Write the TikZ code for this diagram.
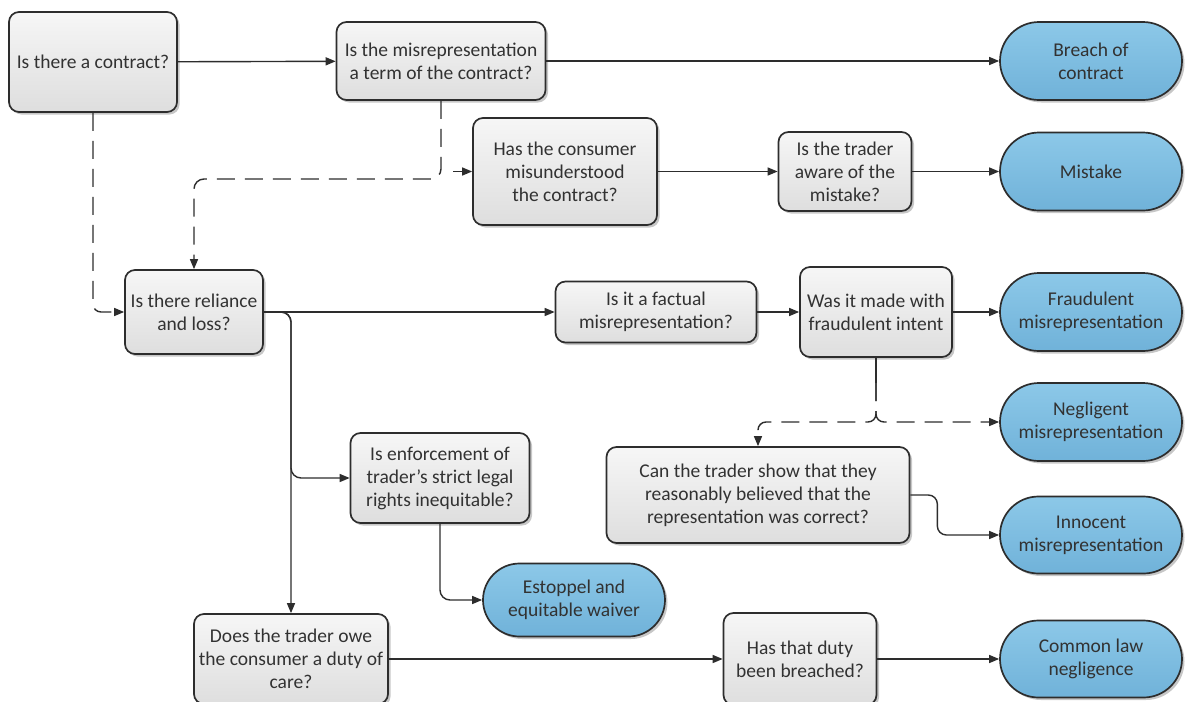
\documentclass[tikz,border=0pt]{standalone}
\usepackage{fontspec}
\setmainfont{Carlito}
\usetikzlibrary{arrows.meta,shapes.misc,shadows}
\definecolor{linec}{RGB}{45,45,45}
\definecolor{txtc}{RGB}{50,50,50}
\definecolor{gA}{RGB}{246,246,246}
\definecolor{gB}{RGB}{222,222,222}
\definecolor{bA}{RGB}{140,200,232}
\definecolor{bB}{RGB}{112,178,217}
\tikzset{
  boxbase/.style={draw=linec, line width=1.7pt, align=center, inner sep=0pt,
    text=txtc, font=\fontsize{19.5}{23}\selectfont,
    drop shadow={shadow xshift=2.5pt, shadow yshift=-2.5pt, fill=black, opacity=0.22}},
  qbox/.style={boxbase, rounded corners=10pt, top color=gA, bottom color=gB},
  tbox/.style={boxbase, rounded rectangle, top color=bA, bottom color=bB,
    minimum width=182pt, minimum height=78pt},
  conn/.style={draw=linec, line width=1.4pt, -{Triangle[length=10pt,width=8pt]}},
  plain/.style={draw=linec, line width=1.4pt},
  dconn/.style={conn, dash pattern=on 18pt off 10pt},
}
\begin{document}
\begin{tikzpicture}[x=1pt,y=-1pt]
\useasboundingbox (0,0) rectangle (1187,702);
\clip (0,0) rectangle (1187,702);
\fill[white] (0,0) rectangle (1187,702);

% question boxes
\node[qbox, minimum width=168pt, minimum height=100pt] (contract) at (93,62) {Is there a contract?};
\node[qbox, minimum width=209pt, minimum height=78pt] (term) at (441,61) {Is the misrepresentation\\a term of the contract?};
\node[qbox, minimum width=184pt, minimum height=107pt] (misund) at (565,171.5) {Has the consumer\\misunderstood\\the contract?};
\node[qbox, minimum width=133pt, minimum height=79pt] (aware) at (845,171.5) {Is the trader\\aware of the\\mistake?};
\node[qbox, minimum width=138pt, minimum height=84pt] (reliance) at (194,312) {Is there reliance\\and loss?};
\node[qbox, minimum width=201pt, minimum height=61pt] (factual) at (656,312) {Is it a factual\\misrepresentation?};
\node[qbox, minimum width=152pt, minimum height=90pt] (fraud) at (876,312) {Was it made with\\fraudulent intent};
\node[qbox, minimum width=303pt, minimum height=96pt] (can) at (758,495) {Can the trader show that they\\reasonably believed that the\\representation was correct?};
\node[qbox, minimum width=179pt, minimum height=90pt] (enforce) at (440,478) {Is enforcement of\\trader’s strict legal\\rights inequitable?};
\node[qbox, minimum width=194pt, minimum height=90pt] (duty) at (291,659) {Does the trader owe\\the consumer a duty of\\care?};
\node[qbox, minimum width=153pt, minimum height=92pt] (breached) at (800,659) {Has that duty\\been breached?};

% outcome boxes
\node[tbox] (breach) at (1091,61) {Breach of\\contract};
\node[tbox] (mistake) at (1091,171.5) {Mistake};
\node[tbox] (fraudulent) at (1091,312) {Fraudulent\\misrepresentation};
\node[tbox] (negl) at (1091,422) {Negligent\\misrepresentation};
\node[tbox, minimum height=77pt] (innocent) at (1091,535) {Innocent\\misrepresentation};
\node[tbox, minimum height=73pt] (estoppel) at (574,600) {Estoppel and\\equitable waiver};
\node[tbox, minimum height=77pt] (common) at (1091,659) {Common law\\negligence};

% straight connectors
\draw[conn] (contract) -- (term);
\draw[conn] (term) -- (breach);
\draw[conn] (misund) -- (aware);
\draw[conn] (aware) -- (mistake);
\draw[conn] (reliance) -- (factual);
\draw[conn] (factual) -- (fraud);
\draw[conn] (fraud) -- (fraudulent);
\draw[conn] (duty) -- (breached);
\draw[conn] (breached) -- (common);

% dashed from contract to reliance
\draw[dconn, rounded corners=8pt] (contract.south) -- (contract.south |- reliance.west) -- (reliance.west);

% dashed from term to reliance, and stub to misunderstood
\coordinate (tturn) at (441,179);
\draw[dconn, rounded corners=10pt] (term.south) -- (tturn) -| (reliance.north);
\coordinate (tstub) at (453,171.5);
\draw[conn] (tstub) -- (misund.west);

% reliance branches
\coordinate (rb) at (291,312);
\draw[conn, rounded corners=10pt] (reliance.east) -- (rb) -- (rb |- enforce.west) -- (enforce.west);
\draw[conn, rounded corners=10pt] (reliance.east) -- (rb) -- (duty.north);

% enforcement to estoppel
\draw[conn, rounded corners=10pt] (enforce.south) |- (estoppel.west);

% fraud branches
\coordinate (fj) at (876,383);
\draw[plain] (fraud.south) -- (fj);
\draw[dconn, rounded corners=8pt] (fj) |- (negl.west);
\draw[dconn, rounded corners=8pt] (fj) -- (fj |- negl.west) -| (can.north);

% can to innocent
\draw[conn, rounded corners=9pt] (can.east) -- ++(27,0) |- (innocent.west);
\end{tikzpicture}
\end{document}
